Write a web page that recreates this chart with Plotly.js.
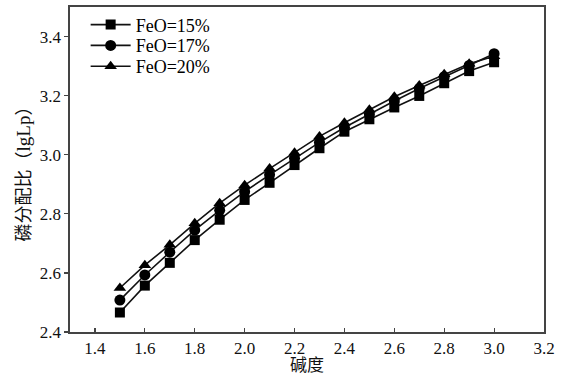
<!DOCTYPE html>
<html>
<head>
<meta charset="utf-8">
<script src="https://cdn.plot.ly/plotly-3.0.1.min.js"></script>
<style>html,body{margin:0;padding:0;background:#fff;}#chart{width:564px;height:376px;}</style>
</head>
<body>
<div id="chart"></div>
<script>
var basicity = [1.5, 1.6, 1.7, 1.8, 1.9, 2.0, 2.1, 2.2, 2.3, 2.4, 2.5, 2.6, 2.7, 2.8, 2.9, 3.0];
var feo15 = [2.466, 2.557, 2.634, 2.711, 2.780, 2.847, 2.905, 2.965, 3.022, 3.078, 3.120, 3.160, 3.199, 3.242, 3.283, 3.313];
var feo17 = [2.508, 2.593, 2.670, 2.745, 2.812, 2.875, 2.932, 2.988, 3.042, 3.092, 3.138, 3.182, 3.224, 3.264, 3.302, 3.342];
var feo20 = [2.549, 2.626, 2.695, 2.768, 2.836, 2.897, 2.953, 3.007, 3.062, 3.108, 3.152, 3.196, 3.234, 3.272, 3.308, 3.333];
var seriesNames = ['FeO=15%', 'FeO=17%', 'FeO=20%'];
var xTicks = [1.4, 1.6, 1.8, 2.0, 2.2, 2.4, 2.6, 2.8, 3.0, 3.2];
var xTickText = ['1.4', '1.6', '1.8', '2.0', '2.2', '2.4', '2.6', '2.8', '3.0', '3.2'];
var yTicks = [2.4, 2.6, 2.8, 3.0, 3.2, 3.4];
var yTickText = ['2.4', '2.6', '2.8', '3.0', '3.2', '3.4'];

var symbols = ['square', 'circle', 'triangle-up'];
var sizes = [10, 11, 11];
var legendIds = ['legend', 'legend2', 'legend3'];
var ys = [feo15, feo17, feo20];
var traces = ys.map(function (y, i) {
  return {
    x: basicity, y: y, name: seriesNames[i], type: 'scatter', mode: 'lines+markers',
    legend: legendIds[i],
    line: {color: '#111', width: 1.6},
    marker: {symbol: symbols[i], size: sizes[i], color: '#000'}
  };
});

var serif = 'Liberation Serif, Times New Roman, serif';
function leg(yy) {
  return {x: 0.033, y: yy, xanchor: 'left', yanchor: 'middle', bgcolor: 'rgba(0,0,0,0)',
    font: {family: serif, size: 18, color: '#000'}, itemwidth: 40};
}
var layout = {
  width: 564, height: 376,
  margin: {l: 70, r: 20, t: 7, b: 44, autoexpand: false},
  paper_bgcolor: '#fff', plot_bgcolor: '#fff',
  showlegend: true,
  legend: leg(0.945), legend2: leg(0.881), legend3: leg(0.817),
  xaxis: {
    range: [1.3, 3.2], tickvals: xTicks, ticktext: xTickText, automargin: false,
    ticks: 'inside', ticklen: 4, tickwidth: 1.2, tickcolor: '#444',
    showline: true, linecolor: '#444', linewidth: 1.6, mirror: true,
    showgrid: false, zeroline: false,
    tickfont: {family: serif, size: 17, color: '#111'},
    title: {text: '碱度', font: {family: 'Noto Sans CJK SC', size: 17, color: '#111'}, standoff: 3}
  },
  yaxis: {
    range: [2.4, 3.5], tickvals: yTicks, ticktext: yTickText, automargin: false,
    ticks: 'outside', ticklen: 4, tickwidth: 1.2, tickcolor: '#444',
    showline: true, linecolor: '#444', linewidth: 1.6, mirror: true,
    showgrid: false, zeroline: false,
    tickfont: {family: serif, size: 17, color: '#111'},
    title: {text: '磷分配比（<span style="font-family:Liberation Serif;font-size:19px">lgLp</span>）', font: {family: 'Noto Sans CJK SC', size: 18, color: '#111'}, standoff: 4}
  }
};
Plotly.newPlot('chart', traces, layout, {displayModeBar: false, staticPlot: true});
</script>
</body>
</html>
